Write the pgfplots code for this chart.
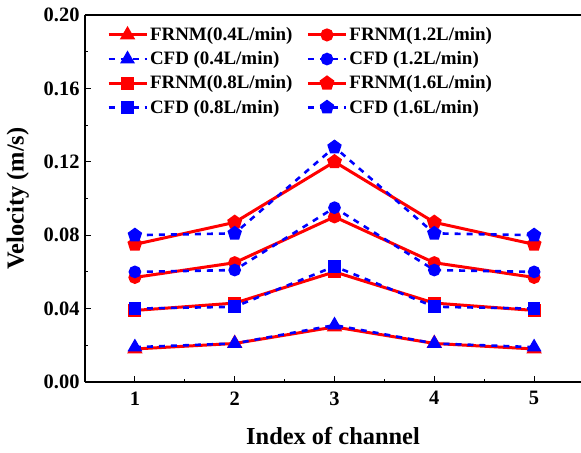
\documentclass[border=0pt]{standalone}
\usepackage{fontspec}
\setmainfont{Liberation Serif}
\usepackage{pgfplots}
\pgfplotsset{compat=1.18}
\usetikzlibrary{plotmarks}

\definecolor{frnmred}{RGB}{255,0,0}
\definecolor{cfdblue}{RGB}{0,0,255}

\pgfplotsset{
  frnmline/.style={frnmred,line width=3bp,mark options={solid,fill=frnmred}},
  cfdline/.style={cfdblue,line width=2.6bp,dash pattern=on 6bp off 6bp,mark options={solid,fill=cfdblue}},
}

\begin{document}
\begin{tikzpicture}
\begin{axis}[
  scale only axis,
  width=496bp,height=367bp,
  xmin=0.5,xmax=5.47,
  ymin=0,ymax=0.20,
  axis y line*=left,
  axis line style={line width=1.1bp},
  xtick={1,2,3,4,5},
  ytick={0,0.04,0.08,0.12,0.16,0.20},
  minor x tick num=1,minor y tick num=1,
  tick align=inside,
  xtick pos=bottom,ytick pos=left,
  major tick length=6bp,minor tick length=3.5bp,
  tick style={line width=1bp,black},
  /pgf/number format/assume math mode=true,
  scaled y ticks=false,
  tick label style={font=\fontsize{20.5}{22}\selectfont\bfseries},
  xticklabel style={yshift=-6bp},
  yticklabel style={xshift=-2bp,/pgf/number format/.cd,fixed,fixed zerofill,precision=2},
  xlabel={Index of channel},
  ylabel={Velocity (m/s)},
  label style={font=\fontsize{24.5}{28}\selectfont\bfseries},
  xlabel style={yshift=-15bp},
  ylabel style={yshift=8bp},
  legend columns=2,
  legend cell align=left,
  legend style={at={(rel axis cs:0.038,0.977)},anchor=north west,draw=none,fill=none,
    font=\fontsize{19}{21}\selectfont\bfseries,
    /tikz/every even column/.append style={column sep=12bp},
    row sep=5.5bp},
  legend image code/.code={\draw[mark repeat=2,mark phase=2]
    plot coordinates {(0bp,0bp)(19bp,0bp)(38bp,0bp)};},
]
% legend order is row-wise
\addplot[frnmline,mark=triangle*,mark size=6bp] coordinates {(1,0.018)(2,0.021)(3,0.030)(4,0.021)(5,0.018)};
\addlegendentry{FRNM(0.4L/min)}
\addplot[frnmline,mark=*,mark size=5bp] coordinates {(1,0.057)(2,0.065)(3,0.090)(4,0.065)(5,0.057)};
\addlegendentry{FRNM(1.2L/min)}
\addplot[cfdline,mark=triangle*,mark size=6bp] coordinates {(1,0.019)(2,0.021)(3,0.031)(4,0.021)(5,0.019)};
\addlegendentry{CFD (0.4L/min)}
\addplot[cfdline,mark=*,mark size=5bp] coordinates {(1,0.060)(2,0.061)(3,0.095)(4,0.061)(5,0.060)};
\addlegendentry{CFD (1.2L/min)}
\addplot[frnmline,mark=square*,mark size=5bp] coordinates {(1,0.039)(2,0.043)(3,0.060)(4,0.043)(5,0.039)};
\addlegendentry{FRNM(0.8L/min)}
\addplot[frnmline,mark=pentagon*,mark size=6bp] coordinates {(1,0.075)(2,0.087)(3,0.120)(4,0.087)(5,0.075)};
\addlegendentry{FRNM(1.6L/min)}
\addplot[cfdline,mark=square*,mark size=5bp] coordinates {(1,0.040)(2,0.041)(3,0.063)(4,0.041)(5,0.040)};
\addlegendentry{CFD (0.8L/min)}
\addplot[cfdline,mark=pentagon*,mark size=6bp] coordinates {(1,0.080)(2,0.081)(3,0.128)(4,0.081)(5,0.080)};
\addlegendentry{CFD (1.6L/min)}
\end{axis}
\pgfresetboundingbox
\path (current axis.south west) ++(-85bp,-71bp) rectangle ([yshift=15bp]current axis.north east);
\end{tikzpicture}
\end{document}
